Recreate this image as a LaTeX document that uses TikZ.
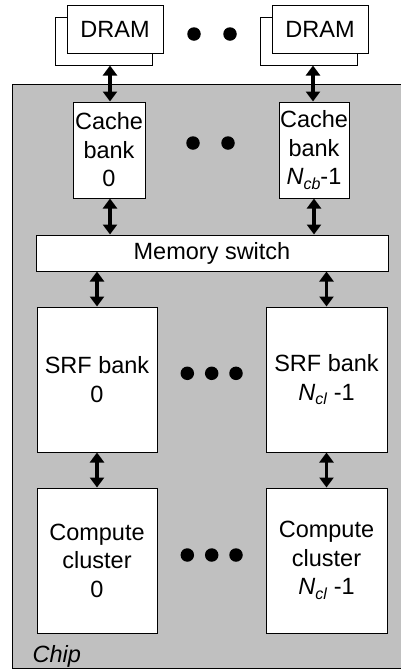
\documentclass[tikz,border=0pt]{standalone}
\usepackage{fontspec}
\setmainfont{Liberation Sans}
\usetikzlibrary{arrows.meta}
\definecolor{chipgray}{RGB}{192,192,192}
\newcommand{\subidx}[2]{\textit{#1}\raisebox{-0.35ex}{\fontsize{16}{16}\selectfont\textit{#2}}}
\tikzset{
  blk/.style={draw=black, fill=white, line width=1pt, inner sep=0pt, align=center,
    font=\fontsize{23.5}{28.5}\selectfont},
  dbl/.style={line width=3.5pt, {Triangle[width=14pt,length=10pt]}-{Triangle[width=14pt,length=10pt]}},
  dotc/.style={fill=black, circle, inner sep=0pt, minimum size=13.5pt}
}
\begin{document}
\begin{tikzpicture}[x=1pt,y=-1pt]
\useasboundingbox (0,0) rectangle (401,670);
% chip
\draw[fill=chipgray, line width=1pt] (12,84) rectangle (403,668);
\node[font=\fontsize{23.5}{28.5}\selectfont\itshape, anchor=base west] (chip) at (29,662) {Chip};
% DRAMs
\node[blk, minimum width=97pt, minimum height=48pt] (dramLb) at (103.5,41) {};
\node[blk, minimum width=96pt, minimum height=48pt] (dramL) at (115,29) {DRAM};
\node[blk, minimum width=97pt, minimum height=48pt] (dramRb) at (308.5,41) {};
\node[blk, minimum width=96pt, minimum height=48pt] (dramR) at (320,29) {DRAM};
\node[dotc] (d1) at (194,34) {};
\node[dotc] (d2) at (230,34) {};
% caches
\node[blk, minimum width=72pt, minimum height=96pt] (cache0) at (109,150) {Cache\\bank\\0};
\node[blk, minimum width=70pt, minimum height=96pt] (cacheN) at (314,150) {Cache\\bank\\\subidx{N}{cb}-1};
\node[dotc] (d3) at (193,143) {};
\node[dotc] (d4) at (228,143) {};
% switch
\node[blk, minimum width=352pt, minimum height=36pt] (switch) at (212,253) {Memory switch};
% SRF
\node[blk, minimum width=120pt, minimum height=145pt] (srf0) at (97,379.5) {SRF bank\\0};
\node[blk, minimum width=121pt, minimum height=145pt] (srfN) at (326.5,379.5) {SRF bank\\\subidx{N}{cl} -1};
\node[dotc] (d5) at (187.3,373.3) {};
\node[dotc] (d6) at (211.7,373.3) {};
\node[dotc] (d7) at (236,373.3) {};
% compute
\node[blk, minimum width=120pt, minimum height=145pt] (cc0) at (97,560.5) {Compute\\cluster\\0};
\node[blk, minimum width=121pt, minimum height=145pt] (ccN) at (326.5,560.5) {Compute\\cluster\\\subidx{N}{cl} -1};
\node[dotc] (d8) at (187.3,555) {};
\node[dotc] (d9) at (211.7,555) {};
\node[dotc] (d10) at (236,555) {};
% arrows
\draw[dbl] ([xshift=1pt]cache0.north) -- ([xshift=1pt]cache0.north |- dramLb.south);
\draw[dbl] ([xshift=-1pt]cacheN.north) -- ([xshift=-1pt]cacheN.north |- dramRb.south);
\draw[dbl] ([xshift=1pt]cache0.south) -- ([xshift=1pt]cache0.south |- switch.north);
\draw[dbl] (cacheN.south) -- (cacheN.south |- switch.north);
\draw[dbl] (srf0.north) -- (srf0.north |- switch.south);
\draw[dbl] (srfN.north) -- (srfN.north |- switch.south);
\draw[dbl] (srf0.south) -- (cc0.north);
\draw[dbl] (srfN.south) -- (ccN.north);
\end{tikzpicture}
\end{document}
